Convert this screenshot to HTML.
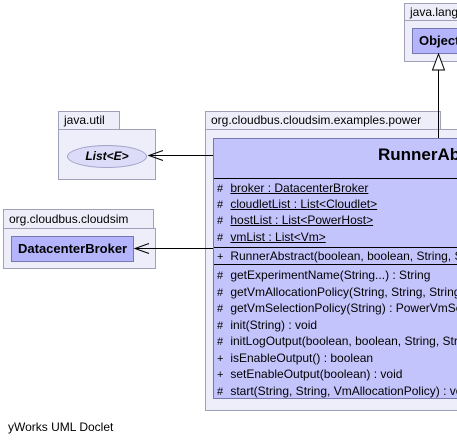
<!DOCTYPE html>
<html><head><style>
body{margin:0;width:457px;height:444px;background:#fff;position:relative;overflow:hidden;font-family:"Liberation Sans",sans-serif;font-size:12px;color:#000}
.a{position:absolute;box-sizing:border-box}
.tab{background:#eeeefa;border:1px solid #a0a0b8;padding:1px 0 0 5px;font-size:12px;white-space:nowrap;overflow:hidden}
.pk{background:#eeeefa;border:1px solid #a0a0b8}
.cls{background:#c4c4fc;border:1px solid #7878b0}
.r{position:absolute;left:3px;white-space:nowrap;font-size:12px;height:16px;line-height:16px}
.r u{text-decoration:underline}
.s{display:inline-block;width:10px;font-size:11px}
.hl{position:absolute;left:0;right:-5px;height:1px;background:#000}
</style></head><body>
<!-- java.lang -->
<div class="a tab" style="left:404px;top:3px;width:60px;height:18px">java.lang</div>
<div class="a pk" style="left:404px;top:20px;width:60px;height:42px"></div>
<div class="a cls" style="left:412px;top:28px;width:50px;height:26px;background:#b4b4fc;font-weight:bold;font-size:13px;padding:4px 0 0 6px">Object</div>
<!-- java.util -->
<div class="a tab" style="left:58px;top:111px;width:62px;height:19px">java.util</div>
<div class="a pk" style="left:58px;top:129px;width:98px;height:51px"></div>
<div class="a" style="left:67px;top:145px;width:80px;height:23px;border-radius:50%;background:#dcdcf8;border:1px solid #a0a0c8;text-align:center;line-height:21px;font-weight:bold;font-style:italic;font-size:12px">List&lt;E&gt;</div>
<!-- org.cloudbus.cloudsim -->
<div class="a tab" style="left:3px;top:209px;width:151px;height:20px;padding-top:2px">org.cloudbus.cloudsim</div>
<div class="a pk" style="left:3px;top:228px;width:153px;height:41px"></div>
<div class="a cls" style="left:11px;top:236px;width:123px;height:26px;background:#b4b4fc;font-weight:bold;font-size:13px;padding:4px 0 0 6px">DatacenterBroker</div>
<!-- examples.power -->
<div class="a tab" style="left:205px;top:111px;width:236px;height:19px">org.cloudbus.cloudsim.examples.power</div>
<div class="a pk" style="left:205px;top:129px;width:260px;height:282px"></div>
<div class="a cls" style="left:213px;top:138px;width:260px;height:261px;overflow:hidden">
 <div style="position:absolute;left:164px;top:6px;font-weight:bold;font-size:17px;white-space:nowrap">RunnerAbstract</div>
 <div class="hl" style="top:39px"></div>
 <div class="r" style="top:41px"><span class="s">#</span> <u>broker : DatacenterBroker</u></div>
 <div class="r" style="top:57px"><span class="s">#</span> <u>cloudletList : List&lt;Cloudlet&gt;</u></div>
 <div class="r" style="top:73px"><span class="s">#</span> <u>hostList : List&lt;PowerHost&gt;</u></div>
 <div class="r" style="top:90px"><span class="s">#</span> <u>vmList : List&lt;Vm&gt;</u></div>
 <div class="hl" style="top:108px"></div>
 <div class="r" style="top:109px"><span class="s">+</span> RunnerAbstract(boolean, boolean, String, String, String, String, String)</div>
 <div class="hl" style="top:125px"></div>
 <div class="r" style="top:128px"><span class="s">#</span> getExperimentName(String...) : String</div>
 <div class="r" style="top:144.5px"><span class="s">#</span> getVmAllocationPolicy(String, String, String) : VmAllocationPolicy</div>
 <div class="r" style="top:161px"><span class="s">#</span> getVmSelectionPolicy(String) : PowerVmSelectionPolicy</div>
 <div class="r" style="top:177.5px"><span class="s">#</span> init(String) : void</div>
 <div class="r" style="top:194px"><span class="s">#</span> initLogOutput(boolean, boolean, String, String, String, String) : void</div>
 <div class="r" style="top:210.5px"><span class="s">+</span> isEnableOutput() : boolean</div>
 <div class="r" style="top:227px"><span class="s">+</span> setEnableOutput(boolean) : void</div>
 <div class="r" style="top:243.5px"><span class="s">#</span> start(String, String, VmAllocationPolicy) : void</div>
</div>
<svg class="a" style="left:0;top:0" width="457" height="444">
 <line x1="438.5" y1="70" x2="438.5" y2="138" stroke="#000"/>
 <polygon points="438.5,54 432.5,70 444.5,70" fill="#fff" stroke="#000"/>
 <line x1="149" y1="155.5" x2="213" y2="155.5" stroke="#000"/>
 <polyline points="163,150.5 149,155.5 163,160.5" fill="none" stroke="#000"/>
 <line x1="135" y1="248.5" x2="213" y2="248.5" stroke="#000"/>
 <polyline points="149,243.5 135,248.5 149,253.5" fill="none" stroke="#000"/>
</svg>
<div class="a" style="left:8px;top:420px;font-size:12px">yWorks UML Doclet</div>
</body></html>
